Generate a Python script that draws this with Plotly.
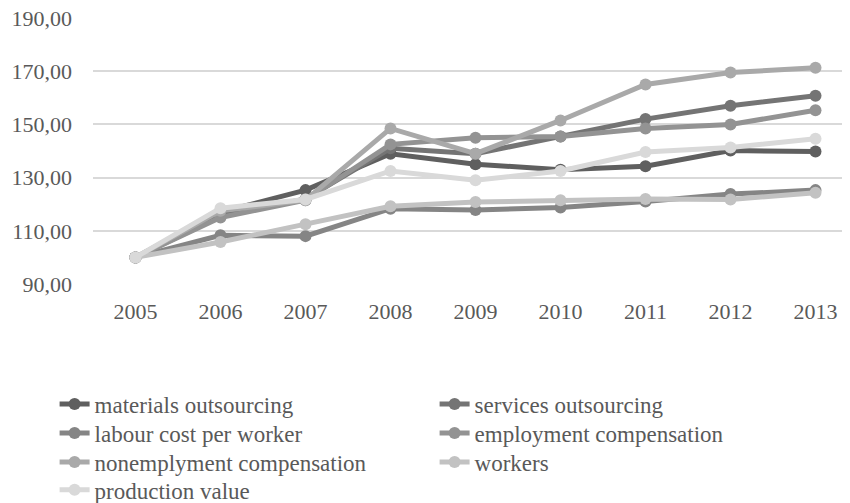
import plotly.graph_objects as go

years = ["2005", "2006", "2007", "2008", "2009", "2010", "2011", "2012", "2013"]
y_ticks = [90, 110, 130, 150, 170, 190]

materials_outsourcing = [100, 117.0, 125.3, 139.0, 135.0, 133.0, 134.3, 140.2, 139.8]
services_outsourcing = [100, 115.5, 122.0, 141.0, 139.0, 145.5, 152.0, 157.0, 160.8]
labour_cost_per_worker = [100, 108.3, 108.0, 118.3, 117.8, 118.8, 121.0, 123.8, 125.3]
employment_compensation = [100, 115.0, 121.5, 142.5, 145.0, 145.5, 148.5, 150.0, 155.3]
nonemployment_compensation = [100, 117.5, 121.5, 148.5, 139.0, 151.5, 165.0, 169.5, 171.3]
workers = [100, 105.8, 112.5, 119.2, 120.8, 121.5, 122.0, 121.8, 124.3]
production_value = [100, 118.5, 121.8, 132.5, 129.0, 132.5, 139.6, 141.3, 144.6]

names = ["materials outsourcing", "services outsourcing", "labour cost per worker",
         "employment compensation", "nonemplyment compensation", "workers", "production value"]
series = [materials_outsourcing, services_outsourcing, labour_cost_per_worker,
          employment_compensation, nonemployment_compensation, workers, production_value]
colors = ["#5f5f5f", "#747474", "#858585", "#939393", "#a9a9a9", "#c2c2c2", "#d9d9d9"]
legend_ids = ["legend", "legend", "legend2", "legend2", "legend3", "legend3", "legend4"]

fig = go.Figure()
for name, vals, col, lg in zip(names, series, colors, legend_ids):
    fig.add_trace(go.Scatter(
        x=years, y=vals, name=name, mode="lines+markers",
        line=dict(color=col, width=5),
        marker=dict(color=col, size=12),
        legend=lg,
    ))

font_family = "Liberation Serif, Times New Roman, serif"
legend_font = dict(family=font_family, size=23, color="#595959")


def legend_row(y):
    return dict(
        orientation="h", x=-0.0502, xanchor="left", y=y, yanchor="middle",
        entrywidth=335, entrywidthmode="pixels", traceorder="normal",
        font=legend_font, bgcolor="rgba(0,0,0,0)",
    )


fig.update_layout(
    width=850, height=503,
    margin=dict(l=85, r=0, t=10, b=227, autoexpand=False),
    plot_bgcolor="white", paper_bgcolor="white",
    separators=", ",
    font=dict(family=font_family, size=22, color="#595959"),
    showlegend=True,
    legend=legend_row(-0.451),
    legend2=legend_row(-0.560),
    legend3=legend_row(-0.669),
    legend4=legend_row(-0.774),
    xaxis=dict(
        type="category", range=[-0.5, 8.5], showgrid=False, zeroline=False,
        showline=False, ticks="", ticklabelstandoff=12,
        tickfont=dict(size=22, color="#595959"),
    ),
    yaxis=dict(
        range=[90, 190.02], tickmode="array", tickvals=y_ticks, tickformat=".2f",
        ticklabeloverflow="allow",
        showgrid=True, gridcolor="#d9d9d9", gridwidth=1.5, zeroline=False,
        showline=False, ticks="", ticklabelstandoff=20,
        tickfont=dict(size=22, color="#595959"),
    ),
)

fig.write_html("out.html")
